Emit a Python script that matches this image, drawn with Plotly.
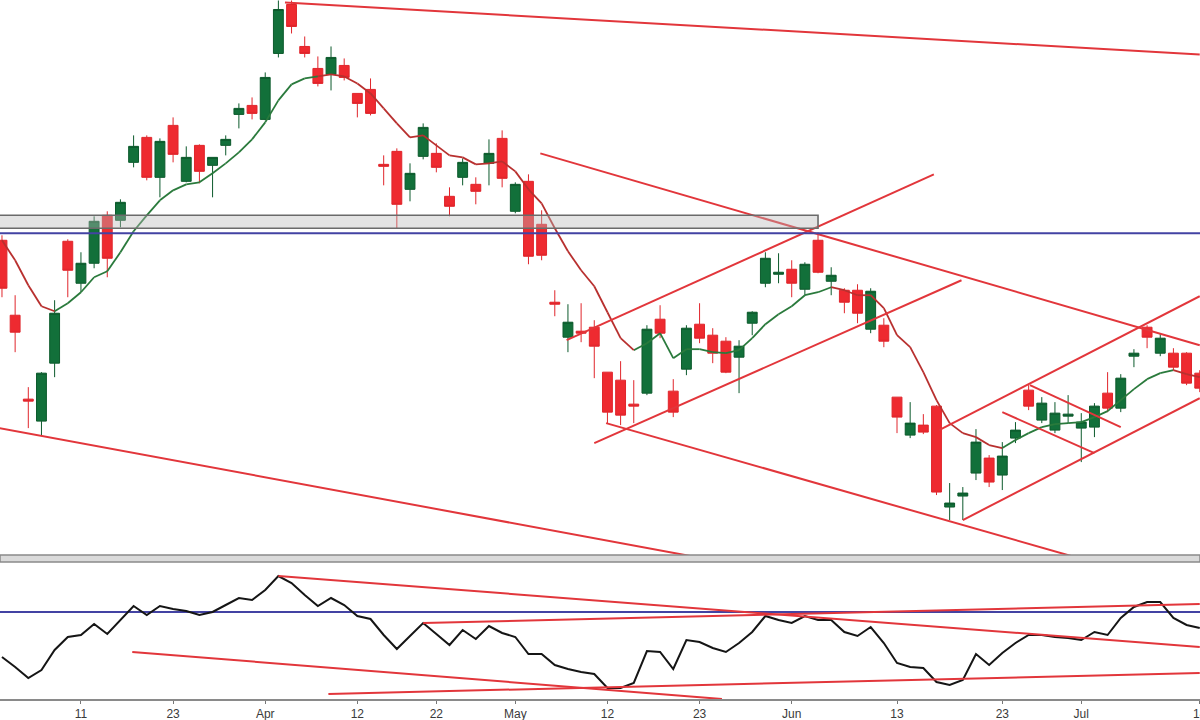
import plotly.graph_objects as go

# ---------------- data ----------------
mar = [3, 4, 7, 8, 9, 10, 11, 14, 15, 16, 17, 21, 22, 23, 24, 25, 28, 29, 30, 31]
apr = [1, 4, 5, 6, 7, 8, 11, 12, 13, 18, 19, 20, 21, 22, 25, 26, 27, 28, 29]
may = [2, 4, 5, 6, 9, 10, 11, 12, 13, 16, 17, 18, 19, 20, 23, 24, 25, 26, 27, 30, 31]
jun = [1, 2, 3, 6, 7, 8, 9, 10, 13, 14, 15, 16, 17, 20, 21, 22, 23, 24, 27, 28, 29, 30]
jul = [1, 4, 5, 6, 7, 8, 11, 12, 13, 14]
dates = ([f"2022-03-{d:02d}" for d in mar] + [f"2022-04-{d:02d}" for d in apr] +
         [f"2022-05-{d:02d}" for d in may] + [f"2022-06-{d:02d}" for d in jun] +
         [f"2022-07-{d:02d}" for d in jul])

opens = [360, 285, 201, 179, 237, 359, 317, 337, 385, 380,
         438, 463, 423, 475, 419, 455, 435, 455, 486, 495,
         481, 547, 596, 554, 532, 526, 535, 507, 511, 436,
         449, 411, 444, 447, 404, 423, 416, 437, 462, 389,
         419, 376, 298, 263, 269, 273, 228, 220, 196, 207,
         281, 209, 231, 276, 265, 259, 243, 277, 317, 326,
         331, 311, 360, 319, 310, 310, 271, 275, 203, 165,
         175, 194, 93, 104, 127, 142, 125, 162, 210, 180,
         170, 184, 172, 173, 207, 192, 244, 273, 247, 247,
         247, 227]
highs = [365, 305, 213, 228, 300, 361, 348, 384, 389, 401,
         465, 465, 462, 483, 454, 456, 443, 465, 497, 503,
         528, 600, 600, 564, 544, 554, 542, 507, 522, 445,
         452, 437, 477, 457, 413, 442, 423, 461, 470, 418,
         426, 390, 310, 296, 297, 280, 228, 239, 220, 275,
         295, 221, 275, 297, 272, 263, 260, 289, 348, 347,
         340, 338, 368, 333, 312, 316, 312, 282, 203, 198,
         186, 195, 117, 113, 171, 145, 158, 178, 215, 203,
         198, 205, 187, 197, 228, 226, 251, 275, 267, 252,
         248, 230]
lows = [303, 248, 172, 165, 223, 303, 308, 332, 323, 373,
        433, 420, 403, 438, 418, 417, 403, 445, 472, 481,
        480, 543, 567, 543, 514, 510, 520, 483, 485, 415,
        372, 399, 441, 428, 384, 415, 396, 415, 413, 387,
        336, 340, 284, 248, 258, 222, 177, 175, 177, 205,
        262, 183, 225, 257, 237, 227, 207, 265, 313, 317,
        303, 305, 327, 305, 287, 277, 267, 253, 167, 162,
        166, 105, 80, 80, 120, 113, 110, 157, 190, 177,
        167, 177, 138, 163, 188, 188, 233, 252, 244, 230,
        215, 208]
closes = [312, 268, 199, 227, 287, 330, 337, 379, 342, 398,
          454, 423, 459, 446, 443, 429, 443, 461, 492, 487,
          523, 591, 574, 547, 517, 543, 523, 497, 487, 434,
          396, 427, 473, 433, 394, 438, 409, 447, 422, 416,
          344, 345, 296, 278, 267, 254, 188, 185, 194, 271,
          267, 188, 272, 262, 247, 228, 254, 288, 342, 328,
          317, 336, 328, 325, 298, 287, 309, 259, 183, 177,
          168, 108, 97, 107, 158, 118, 144, 170, 194, 197,
          187, 186, 178, 194, 192, 222, 247, 263, 262, 233,
          217, 212]

ma = [360, 340, 315, 294, 289, 297, 308, 323, 329, 348,
      369, 385, 400, 410, 416, 418, 427, 437, 448, 461,
      478, 500, 516, 522, 524, 526, 524, 517, 507, 492,
      477, 463, 465, 455, 445, 443, 436, 437, 439, 429,
      411, 397, 372, 349, 330, 314, 288, 262, 250, 257,
      267, 242, 251, 251, 248, 247, 250, 262, 276, 286,
      294, 305, 308, 313, 310, 305, 305, 292, 265, 253,
      228, 200, 177, 167, 163, 155, 152, 160, 167, 173,
      176, 177, 178, 183, 189, 200, 211, 221, 227, 230,
      226, 223]
ma_up_runs = [(4, 24), (48, 63), (76, 89)]   # index ranges where the average is in up-trend

rsi = [48.75, 46.25, 43.5, 45.5, 50.5, 53.75, 54.25, 57, 54.5, 58,
       61.5, 59.25, 61.5, 60.75, 60.25, 59.25, 60, 61.75, 63.5, 63,
       65.5, 69, 67.25, 64.25, 61.5, 63.5, 61.75, 59, 58.25, 54.25,
       50.75, 54, 57.25, 54.5, 51.75, 55.5, 53.25, 56.5, 54.75, 53.75,
       49.5, 49.5, 46.75, 45.75, 45, 44.5, 41, 41, 42.25, 50.25,
       50, 45.75, 53, 52.5, 51, 50, 52.25, 55, 59, 58,
       57.25, 59, 58, 58, 55, 54, 56.25, 52.25, 47.25, 46.25,
       46, 42.5, 41.75, 43, 49.5, 46.75, 49.75, 52.25, 54.25, 54.25,
       53.75, 53.5, 53, 55, 54.25, 58.5, 61.25, 62.5, 62.5, 58.5,
       56.75, 56]

tick_dates = ["2022-03-11", "2022-03-23", "2022-04-01", "2022-04-12", "2022-04-22",
              "2022-05-02", "2022-05-12", "2022-05-23", "2022-06-01", "2022-06-13",
              "2022-06-23", "2022-07-01", "2022-07-14"]
tick_text = ["11", "23", "Apr", "12", "22", "May", "12", "23", "Jun", "13", "23", "Jul", "14"]

# trendlines: ((bar index, level), (bar index, level))
price_trendlines = [
    ((21.5, 598), (91, 546)),
    ((-1, 174), (52.3, 44)),
    ((40.9, 447), (91, 255)),
    ((42.9, 260), (70.8, 426)),
    ((45.0, 157), (72.9, 320)),
    ((45.9, 177), (81.5, 43)),
    ((71.2, 170), (91, 304)),
    ((73.0, 80), (91, 202)),
    ((78.1, 215), (85.0, 173)),
    ((76.0, 188), (83.0, 147)),
]
rsi_trendlines = [
    ((21.0, 69), (91, 51.25)),
    ((32.0, 57.25), (91, 62)),
    ((9.9, 50), (54.7, 38.25)),
    ((24.8, 39.5), (91, 44.75)),
]
resistance_zone = (-1, 62.0, 372, 385)   # x0, x1 (bar index), low, high
price_level = 367
rsi_level = 60

# ---------------- figure ----------------
W, H = 1200, 720
xs = list(range(len(dates)))
RED = "#e2363b"
BLUE = "#4343a3"

fig = go.Figure()

fig.add_trace(go.Candlestick(
    x=xs, open=opens, high=highs, low=lows, close=closes,
    increasing=dict(line=dict(color="#0c5a2c", width=1), fillcolor="#12703a"),
    decreasing=dict(line=dict(color="#e0262c", width=1), fillcolor="#ee2a30"),
    whiskerwidth=0, xaxis="x", yaxis="y", showlegend=False, hoverinfo="skip"))

# colored moving average
up_x, up_y, dn_x, dn_y = [], [], [], []
def in_up(k):
    return any(a <= k and k + 1 <= b for a, b in ma_up_runs)
for k in range(len(ma) - 1):
    if in_up(k):
        up_x += [k, k + 1, None]; up_y += [ma[k], ma[k + 1], None]
    else:
        dn_x += [k, k + 1, None]; dn_y += [ma[k], ma[k + 1], None]
fig.add_trace(go.Scatter(x=up_x, y=up_y, mode="lines", line=dict(color="#2a7a3c", width=1.8),
                         xaxis="x", yaxis="y", showlegend=False, hoverinfo="skip"))
fig.add_trace(go.Scatter(x=dn_x, y=dn_y, mode="lines", line=dict(color="#b8302f", width=1.8),
                         xaxis="x", yaxis="y", showlegend=False, hoverinfo="skip"))

for (x0, y0), (x1, y1) in price_trendlines:
    fig.add_trace(go.Scatter(x=[x0, x1], y=[y0, y1], mode="lines",
                             line=dict(color=RED, width=2), xaxis="x", yaxis="y",
                             showlegend=False, hoverinfo="skip"))

fig.add_trace(go.Scatter(x=xs, y=rsi, mode="lines", line=dict(color="#151515", width=2),
                         xaxis="x2", yaxis="y2", showlegend=False, hoverinfo="skip"))
for (x0, y0), (x1, y1) in rsi_trendlines:
    fig.add_trace(go.Scatter(x=[x0, x1], y=[y0, y1], mode="lines",
                             line=dict(color=RED, width=2), xaxis="x2", yaxis="y2",
                             showlegend=False, hoverinfo="skip"))

xr = [-0.15, 91.02]
main_dom = [165 / H, 1.0]
low_dom = [21 / H, 158 / H]

shapes = [
    dict(type="rect", xref="x", yref="y", x0=resistance_zone[0], x1=resistance_zone[1],
         y0=resistance_zone[2], y1=resistance_zone[3], layer="above",
         fillcolor="rgba(185,185,185,0.4)", line=dict(color="#6a6a6a", width=1.6)),
    dict(type="line", xref="paper", yref="y", x0=0, x1=1, y0=price_level, y1=price_level,
         layer="above", line=dict(color=BLUE, width=2)),
    dict(type="line", xref="paper", yref="y2", x0=0, x1=1, y0=rsi_level, y1=rsi_level,
         layer="below", line=dict(color=BLUE, width=2)),
    dict(type="rect", xref="paper", yref="paper", x0=0, x1=1,
         y0=(H - 562) / H, y1=(H - 555) / H, layer="above",
         fillcolor="#dadada", line=dict(color="#8a8a8a", width=1.5)),
]

fig.update_layout(
    width=W, height=H, margin=dict(l=0, r=0, t=0, b=0, autoexpand=False),
    paper_bgcolor="white", plot_bgcolor="white",
    boxgap=0.25, boxgroupgap=0,
    showlegend=False, shapes=shapes,
    xaxis=dict(domain=[0, 1], range=xr, anchor="y", visible=False,
               rangeslider=dict(visible=False)),
    yaxis=dict(domain=main_dom, range=[45, 600.5], visible=False),
    xaxis2=dict(domain=[0, 1], range=xr, anchor="y2",
                tickvals=[dates.index(d) for d in tick_dates], ticktext=tick_text,
                showline=True, linecolor="#8a8a8a", linewidth=2, mirror=False,
                ticks="outside", ticklen=3, tickcolor="#777",
                showgrid=False, zeroline=False, automargin=False,
                ticklabeloverflow="allow",
                tickfont=dict(family="Liberation Sans, Arial", size=12, color="#3a3a3a")),
    yaxis2=dict(domain=low_dom, range=[38.25, 72.5], visible=False),
)

fig.write_html("out.html", config={"displayModeBar": False},
               post_script="document.body.style.margin='0';document.body.style.overflow='hidden';")
